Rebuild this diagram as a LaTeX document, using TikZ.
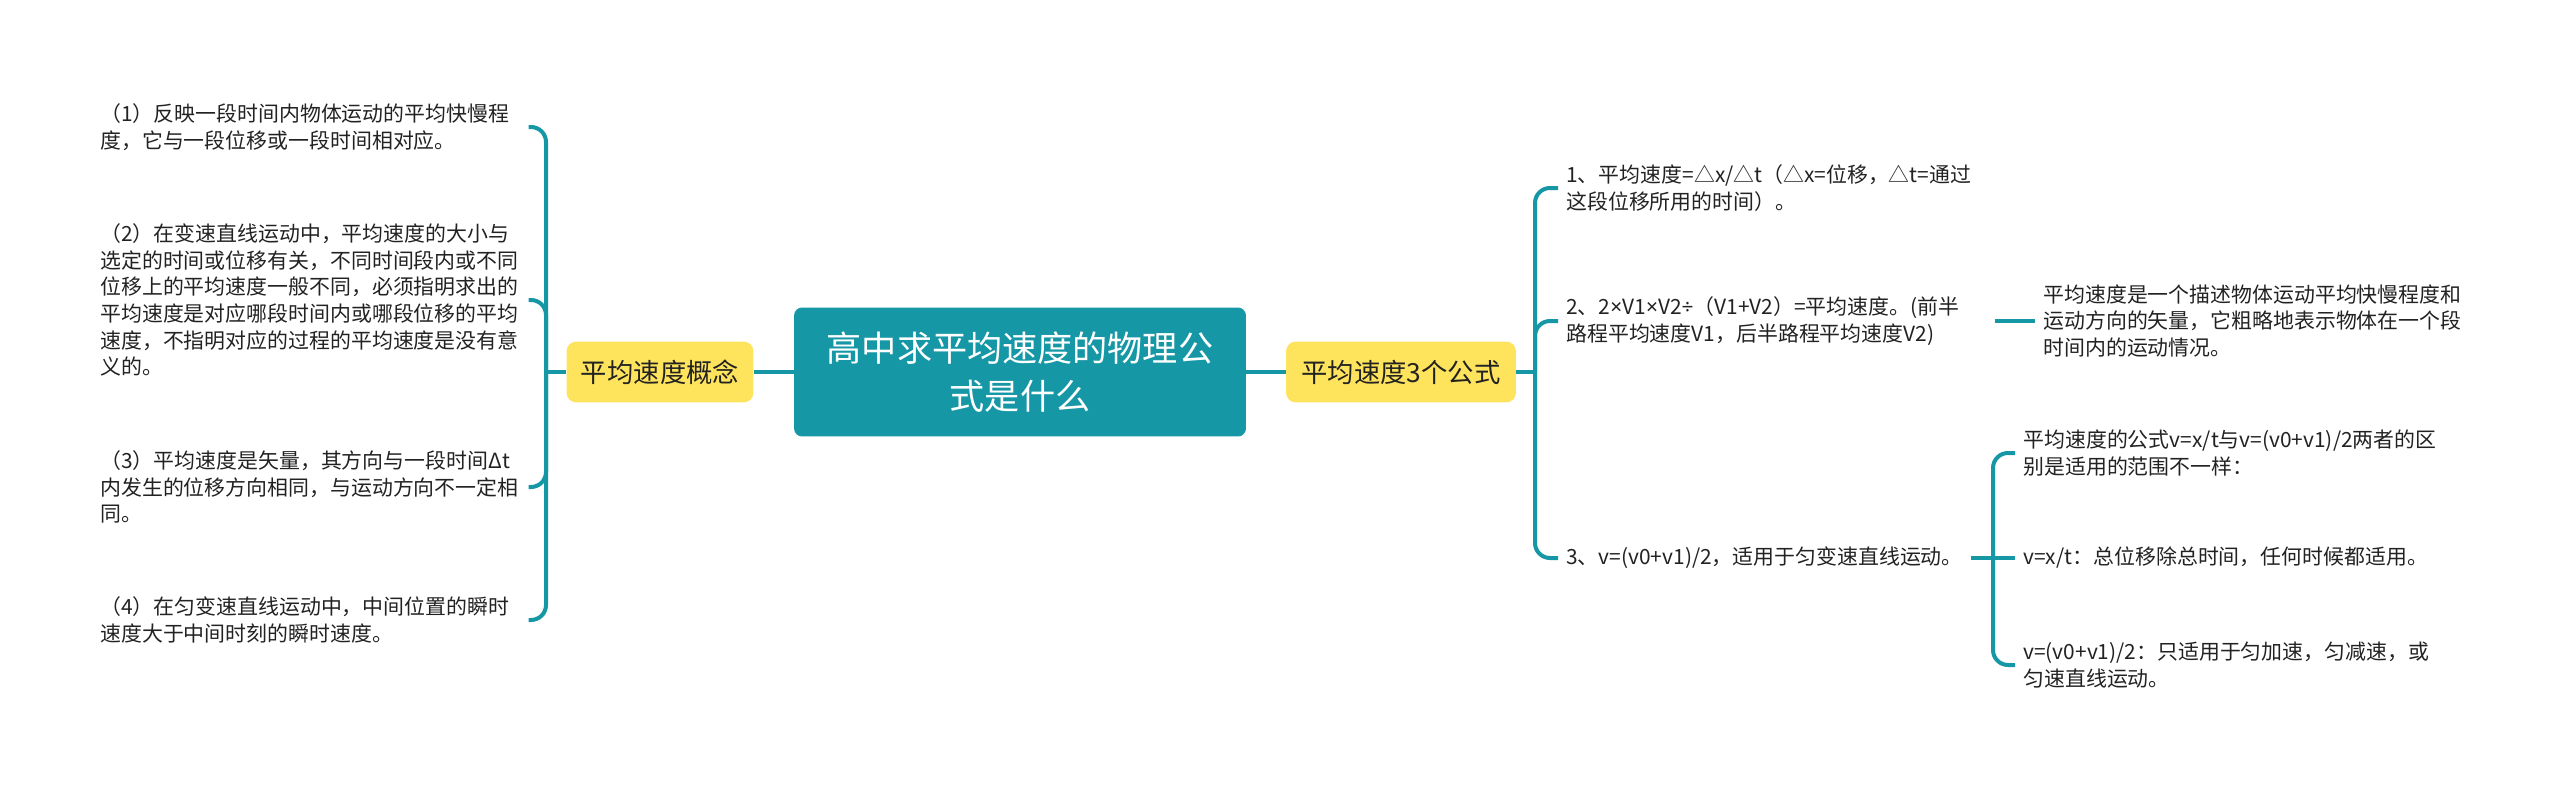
\documentclass[tikz,border=0pt]{standalone}
\usepackage{fontspec}
\setmainfont{Noto Sans CJK SC}
\newfontfamily\narrowsym{Noto Sans}
\usetikzlibrary{positioning}
\definecolor{cTeal}{HTML}{1597A6}
\definecolor{cYellow}{HTML}{FEE35C}
\definecolor{cText}{HTML}{222222}
\tikzset{
  root/.style={rectangle, rounded corners=0.16cm, fill=cTeal, text=white, align=center, minimum width=9.04cm, minimum height=2.58cm, font=\fontsize{20}{27.3}\selectfont},
  topic/.style={rectangle, rounded corners=0.2cm, fill=cYellow, text=cText, minimum height=1.22cm, font=\fontsize{15}{18}\selectfont},
  leaf/.style={align=left, text=cText, inner xsep=0.16cm, inner ysep=0pt, font=\fontsize{11.9}{15.2}\selectfont},
  wide/.style={text width=8.4cm},
  link/.style={cTeal, line width=0.08cm, rounded corners=0.3cm},
}
\begin{document}
\begin{tikzpicture}[x=0.02cm, y=-0.02cm]
  \useasboundingbox (0,0) rectangle (2560,791);
  \node[root] (root) at (1020,372) {高中求平均速度的物理公\\式是什么};
  \node[topic, minimum width=3.74cm] (c1) at (660,372) {平均速度概念};
  \node[topic, minimum width=4.6cm] (c2) at (1401,372) {平均速度3个公式};
  \draw[link] (c1) -- (root);
  \draw[link] (root) -- (c2);
  % left side
  \node[leaf, wide, anchor=west] (l1) at (92,127) {（1）反映一段时间内物体运动的平均快慢程\\度，它与一段位移或一段时间相对应。};
  \node[leaf, wide, anchor=west] (l2) at (92,300) {（2）在变速直线运动中，平均速度的大小与\\选定的时间或位移有关，不同时间段内或不同\\位移上的平均速度一般不同，必须指明求出的\\平均速度是对应哪段时间内或哪段位移的平均\\速度，不指明对应的过程的平均速度是没有意\\义的。};
  \node[leaf, wide, anchor=west] (l3) at (92,487) {（3）平均速度是矢量，其方向与一段时间Δt\\内发生的位移方向相同，与运动方向不一定相\\同。};
  \node[leaf, wide, anchor=west] (l4) at (92,620) {（4）在匀变速直线运动中，中间位置的瞬时\\速度大于中间时刻的瞬时速度。};
  \coordinate (lb) at (546,372);
  \draw[link] (c1.west) -- (lb);
  \foreach \n in {l1,l2,l3,l4} \draw[link] (lb) |- (\n.east);
  % right side
  \node[leaf, wide, anchor=west] (r1) at (1558,188) {1、平均速度=△x/△t（△x=位移，△t=通过\\这段位移所用的时间）。};
  \node[leaf, wide, anchor=west] (r2) at (1558,321) {2、2{\narrowsym×}V1{\narrowsym×}V2{\narrowsym÷}（V1+V2）=平均速度。(前半\\路程平均速度V1，后半路程平均速度V2)};
  \node[leaf, anchor=west] (r3) at (1558,558) {3、v=(v0+v1)/2，适用于匀变速直线运动。};
  \coordinate (rb) at (1535,372);
  \draw[link] (c2.east) -- (rb);
  \foreach \n in {r1,r2,r3} \draw[link] (rb) |- (\n.west);
  % details
  \node[leaf, wide, anchor=west] (f0) at (2035,321) {平均速度是一个描述物体运动平均快慢程度和\\运动方向的矢量，它粗略地表示物体在一个段\\时间内的运动情况。};
  \draw[link] (r2) -- (f0);
  \node[leaf, wide, anchor=west] (f1) at (2015,453) {平均速度的公式v=x/t与v=(v0+v1)/2两者的区\\别是适用的范围不一样：};
  \node[leaf, wide, anchor=west] (f2) at (2015,558) {v=x/t：总位移除总时间，任何时候都适用。};
  \node[leaf, wide, anchor=west] (f3) at (2015,665) {v=(v0+v1)/2：只适用于匀加速，匀减速，或\\匀速直线运动。};
  \coordinate (fb) at (1993,558);
  \draw[link] (r3) -- (f2);
  \draw[link] (f1.west) -| (fb) |- (f3.west);
\end{tikzpicture}
\end{document}
